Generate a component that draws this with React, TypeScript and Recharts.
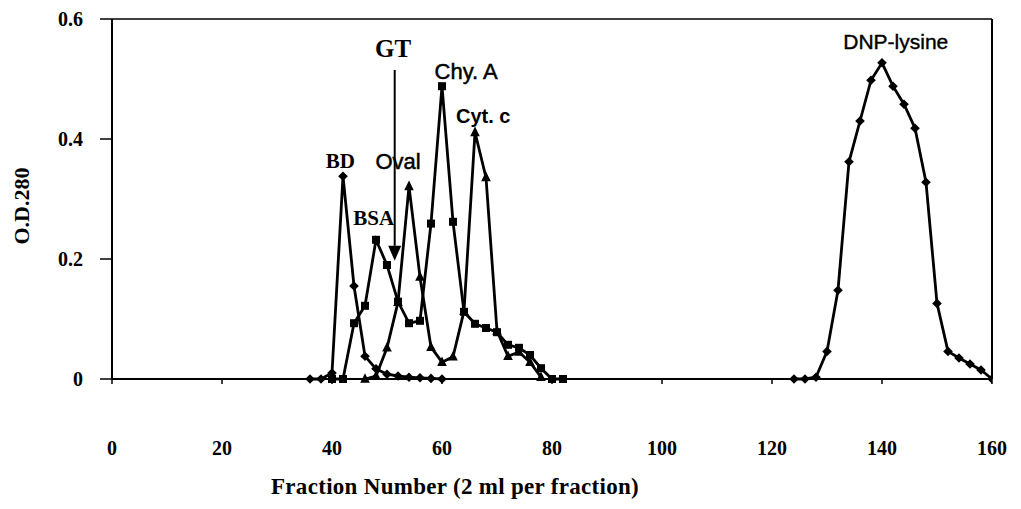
import React from "react";
import { LineChart, Line, XAxis, YAxis, ReferenceLine, ReferenceDot } from "recharts";

// Diamond series, first peak (BD)
const bdFractions = [36, 38, 40, 42, 44, 46, 48, 50, 52, 54, 56, 58, 60];
const bdValues = [0, 0, 0.01, 0.338, 0.155, 0.038, 0.017, 0.008, 0.005, 0.003, 0.002, 0.001, 0];
// Diamond series, DNP-lysine peak
const dnpFractions = [124, 126, 128, 130, 132, 134, 136, 138, 140, 142, 144, 146, 148, 150, 152, 154, 156, 158, 160];
const dnpValues = [0, 0, 0.003, 0.046, 0.148, 0.362, 0.43, 0.498, 0.527, 0.488, 0.458, 0.418, 0.328, 0.126, 0.046, 0.035, 0.025, 0.015, 0];
// Square series (BSA, Chy. A)
const sqFractions = [40, 42, 44, 46, 48, 50, 52, 54, 56, 58, 60, 62, 64, 66, 68, 70, 72, 74, 76, 78, 80, 82];
const sqValues = [0, 0, 0.093, 0.122, 0.232, 0.19, 0.129, 0.093, 0.097, 0.259, 0.488, 0.262, 0.112, 0.092, 0.085, 0.078, 0.057, 0.052, 0.04, 0.018, 0, 0];
// Triangle series (Oval, Cyt. c)
const triFractions = [46, 48, 50, 52, 54, 56, 58, 60, 62, 64, 66, 68, 70, 72, 74, 76, 78];
const triValues = [0, 0.005, 0.052, 0.128, 0.321, 0.17, 0.053, 0.028, 0.037, 0.113, 0.411, 0.336, 0.08, 0.038, 0.045, 0.028, 0.003];

const xTicks = [0, 20, 40, 60, 80, 100, 120, 140, 160];
const yTicks = [0, 0.2, 0.4, 0.6];

const toRows = (xs: number[], vs: number[]) => xs.map((x, i) => ({ x, v: vs[i] }));
const bdData = toRows(bdFractions, bdValues);
const dnpData = toRows(dnpFractions, dnpValues);
const sqData = toRows(sqFractions, sqValues);
const triData = toRows(triFractions, triValues);

const SERIF = "'Liberation Serif', 'Times New Roman', serif";
const SANS = "'Liberation Sans', Arial, sans-serif";

const Diamond = (p: any) => {
  const { cx, cy, index } = p;
  if (cx == null || cy == null) return <g key={`dm-${index}`} />;
  const s = 4.8;
  return (
    <polygon
      key={`dm-${index}-${cx}`}
      points={`${cx},${cy - s} ${cx + s},${cy} ${cx},${cy + s} ${cx - s},${cy}`}
      fill="#000"
    />
  );
};

const Square = (p: any) => {
  const { cx, cy, index } = p;
  if (cx == null || cy == null) return <g key={`sq-${index}`} />;
  const s = 4;
  return <rect key={`sq-${index}`} x={cx - s} y={cy - s} width={2 * s} height={2 * s} fill="#000" />;
};

const Tri = (p: any) => {
  const { cx, cy, index } = p;
  if (cx == null || cy == null) return <g key={`tr-${index}`} />;
  const s = 4.8;
  return (
    <polygon
      key={`tr-${index}`}
      points={`${cx},${cy - s - 1} ${cx + s},${cy + s - 1} ${cx - s},${cy + s - 1}`}
      fill="#000"
    />
  );
};

const textShape = (label: string, family: string, size: number, weight: string, strokeW = 0) => (p: any) => (
  <text
    x={p.cx}
    y={p.cy}
    textAnchor="middle"
    fontFamily={family}
    fontSize={size}
    fontWeight={weight}
    fill="#000"
    stroke={strokeW > 0 ? "#000" : "none"}
    strokeWidth={strokeW}
  >
    {label}
  </text>
);

const arrowHead = (p: any) => (
  <polygon
    points={`${p.cx - 6.5},${p.cy} ${p.cx + 6.5},${p.cy} ${p.cx},${p.cy + 15}`}
    fill="#000"
  />
);

const tickStyle = { fill: "#000", fontSize: 20, fontWeight: "bold", fontFamily: SERIF };

export default function App() {
  return (
    <div style={{ position: "absolute", left: 0, top: 0, width: 1021, height: 509, background: "#fff" }}>
      <LineChart width={1021} height={509} margin={{ top: 19, right: 29, bottom: 0, left: 0 }}>
        <XAxis
          dataKey="x"
          type="number"
          domain={[0, 160]}
          ticks={xTicks}
          allowDataOverflow
          axisLine={{ stroke: "#000", strokeWidth: 2 }}
          tickLine={{ stroke: "#000", strokeWidth: 1.5 }}
          tickSize={5}
          tickMargin={57}
          height={130}
          tick={tickStyle}
          label={{
            content: (props: any) => {
              const vb = props.viewBox || { x: 112, y: 379 };
              return (
                <text
                  x={vb.x + 343}
                  y={vb.y + 115}
                  textAnchor="middle"
                  fontFamily={SERIF}
                  fontSize={23}
                  fontWeight="bold"
                  letterSpacing={0.3}
                  fill="#000"
                >
                  Fraction Number (2 ml per fraction)
                </text>
              );
            },
          }}
        />
        <YAxis
          type="number"
          domain={[0, 0.6]}
          ticks={yTicks}
          width={112}
          axisLine={{ stroke: "#000", strokeWidth: 2 }}
          tickLine={{ stroke: "#000", strokeWidth: 1.5 }}
          tickSize={12}
          tickMargin={17}
          tick={tickStyle}
          tickFormatter={(v: number) => (v === 0 ? "0" : v.toFixed(1))}
          label={{
            content: (props: any) => {
              const vb = props.viewBox || { x: 0, y: 19, height: 360 };
              const cy = vb.y + 187;
              return (
                <text
                  x={21}
                  y={cy}
                  transform={`rotate(-90, 21, ${cy})`}
                  textAnchor="middle"
                  dominantBaseline="central"
                  fontFamily={SERIF}
                  fontSize={22}
                  fontWeight="bold"
                  fill="#000"
                >
                  O.D.280
                </text>
              );
            },
          }}
        />
        <ReferenceLine y={0.6} stroke="#000" strokeWidth={1.5} />
        <ReferenceLine x={160} stroke="#000" strokeWidth={2} />

        <Line data={bdData} dataKey="v" stroke="#000" strokeWidth={2.8} dot={Diamond} isAnimationActive={false} />
        <Line data={dnpData} dataKey="v" stroke="#000" strokeWidth={2.8} dot={Diamond} isAnimationActive={false} />
        <Line data={sqData} dataKey="v" stroke="#000" strokeWidth={2.8} dot={Square} isAnimationActive={false} />
        <Line data={triData} dataKey="v" stroke="#000" strokeWidth={2.8} dot={Tri} isAnimationActive={false} />

        <ReferenceLine
          segment={[
            { x: 51.4, y: 0.515 },
            { x: 51.4, y: 0.222 },
          ]}
          stroke="#000"
          strokeWidth={2}
        />
        <ReferenceDot x={51.4} y={0.222} r={0} shape={arrowHead} />

        <ReferenceDot x={51.1} y={0.537} r={0} shape={textShape("GT", SERIF, 25, "bold")} />
        <ReferenceDot x={41.5} y={0.352} r={0} shape={textShape("BD", SERIF, 21, "bold")} />
        <ReferenceDot x={52.0} y={0.35} r={0} shape={textShape("Oval", SANS, 22, "normal", 0.5)} />
        <ReferenceDot x={47.6} y={0.257} r={0} shape={textShape("BSA", SERIF, 21, "bold")} />
        <ReferenceDot x={64.4} y={0.5} r={0} shape={textShape("Chy. A", SANS, 22, "normal", 0.5)} />
        <ReferenceDot x={67.5} y={0.427} r={0} shape={textShape("Cyt. c", SANS, 20, "bold")} />
        <ReferenceDot x={142.5} y={0.55} r={0} shape={textShape("DNP-lysine", SANS, 21, "normal", 0.4)} />
      </LineChart>
    </div>
  );
}
